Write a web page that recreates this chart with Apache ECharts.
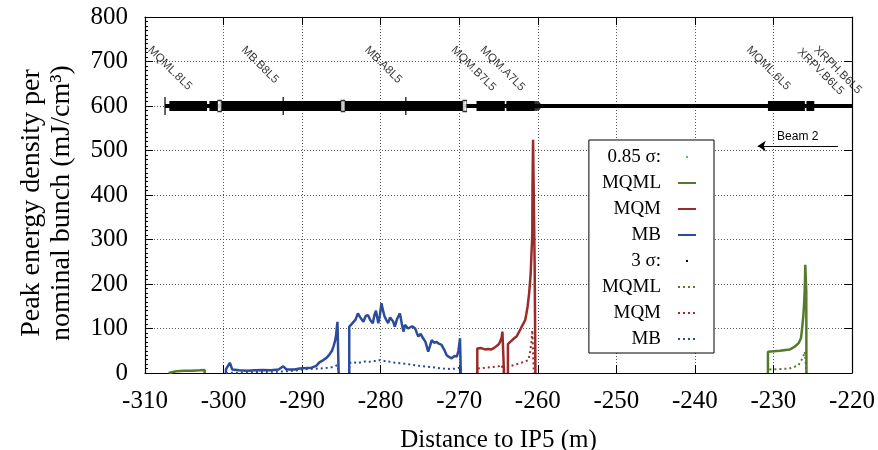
<!DOCTYPE html>
<html>
<head>
<meta charset="utf-8">
<script src="https://cdn.jsdelivr.net/npm/echarts@6/dist/echarts.min.js"></script>
<style>
html, body { margin: 0; padding: 0; background: #fff; }
#chart { width: 878px; height: 450px; }
</style>
</head>
<body>
<div id="chart"></div>
<script>
// element names along the beam line (top of the plot)
const elementNames = ['MQML.8L5', 'MB.B8L5', 'MB.A8L5', 'MQM.B7L5', 'MQM.A7L5', 'MQML.6L5', 'XRPV.B6L5', 'XRPH.B6L5'];
const elementLabelX = [-309.4, -297.5, -281.8, -270.8, -267.1, -233.2, -226.7, -224.6];
const elementLabelY = [730, 730, 730, 730, 730, 730, 725, 730];

// beam line at 600 and magnet blocks on it
const beamY = 600;
const beamStart = -307.45;
const beamEnd = -220;
const magnetStart = [-306.9, -301.8, -300.5, -284.8, -267.8, -264.0, -230.7, -225.8];
const magnetEnd = [-302.1, -300.7, -284.8, -269.3, -264.2, -260.4, -226.0, -224.8];
const interconnectX = [-300.5, -284.8, -269.3];
const beamTickX = [-307.45, -292.4, -276.8];
const beamEndX = [-260.2];

// Beam 2 arrow
const beamArrowFrom = [-221.8, 510];
const beamArrowTo = [-232.0, 510];

// 0.85 sigma, solid
const mqmlSolid = [
  [[-307.0, 0], [-307.0, 3], [-306, 4], [-305, 5], [-304, 5], [-303, 6], [-302.4, 7], [-302.4, 0]],
  [[-230.7, 0], [-230.7, 48], [-229.2, 50], [-227.9, 53], [-227.3, 59], [-226.8, 67], [-226.5, 78], [-226.37, 97],
   [-226.2, 127], [-226.07, 164], [-225.99, 202], [-225.95, 243], [-225.82, 183], [-225.8, 0]]
];
const mqmSolid = [
  [[-267.7, 0], [-267.7, 55], [-267.5, 58], [-267.2, 56], [-266.7, 53], [-266.3, 54], [-265.9, 53], [-265.5, 57],
   [-265.25, 61], [-265.0, 64], [-264.8, 70], [-264.6, 80], [-264.5, 93], [-264.3, 93], [-264.3, 0]],
  [[-263.8, 0], [-263.8, 65], [-263.5, 70], [-263.3, 74], [-263.0, 78], [-262.7, 82], [-262.4, 92], [-262.05, 104],
   [-261.8, 112], [-261.6, 119], [-261.45, 133], [-261.3, 149], [-261.1, 179], [-260.9, 224], [-260.8, 269],
   [-260.7, 310], [-260.67, 419], [-260.6, 524], [-260.45, 527], [-260.4, 247], [-260.3, 0]]
];
const mbSolid = [
  [[-299.7, 0], [-299.7, 8], [-299.2, 23], [-298.9, 8], [-298, 6], [-297, 5], [-296, 6], [-295, 7], [-294, 6],
   [-293, 8], [-292.4, 15], [-292, 8], [-291, 8], [-290.3, 10], [-289.5, 11], [-288.8, 12], [-288.2, 16],
   [-287.8, 24], [-287.3, 29], [-286.9, 34], [-286.5, 42], [-286.2, 50], [-286.0, 60], [-285.8, 72], [-285.7, 82],
   [-285.5, 115], [-285.35, 115], [-285.35, 0]],
  [[-284.0, 0], [-284.0, 104], [-283.7, 110], [-283.5, 108], [-283.2, 120], [-282.9, 134], [-282.6, 125],
   [-282.2, 115], [-281.9, 128], [-281.6, 130], [-281.3, 118], [-281.0, 112], [-280.8, 130], [-280.6, 140],
   [-280.3, 112], [-280.1, 130], [-279.9, 157], [-279.7, 140], [-279.5, 127], [-279.3, 120], [-279.05, 112],
   [-278.8, 125], [-278.6, 127], [-278.4, 115], [-278.2, 104], [-277.9, 122], [-277.55, 134], [-277.3, 110],
   [-277.1, 93], [-276.9, 108], [-276.7, 112], [-276.5, 100], [-276.3, 97], [-276.0, 105], [-275.6, 100],
   [-275.4, 90], [-275.2, 82], [-274.9, 88], [-274.6, 78], [-274.3, 70], [-273.95, 48], [-273.7, 62],
   [-273.5, 74], [-273.2, 68], [-272.9, 70], [-272.6, 66], [-272.25, 63], [-271.9, 52], [-271.6, 40],
   [-271.3, 36], [-270.97, 33], [-270.6, 38], [-270.3, 37], [-270.1, 50], [-269.9, 78], [-269.8, 80], [-269.8, 0]]
];

// 3 sigma, dotted
const mqmlDotted = [
  [[-230.7, 0], [-230.7, 8], [-229, 9], [-228, 10], [-227.3, 14], [-226.8, 18], [-226.4, 30], [-226.2, 37],
   [-226.0, 48], [-225.85, 50], [-225.8, 0]]
];
const mqmDotted = [
  [[-267.7, 0], [-267.7, 10], [-267, 11], [-266, 13], [-265, 15], [-264.6, 18], [-264.4, 20], [-264.3, 0]],
  [[-263.8, 0], [-263.8, 14], [-263, 18], [-262.3, 22], [-261.6, 26], [-261.2, 29], [-261.0, 44], [-260.8, 70],
   [-260.7, 96], [-260.6, 100], [-260.5, 0]]
];
const mbDotted = [
  [[-299.7, 0], [-299.5, 2], [-296, 2], [-293, 3], [-291, 5], [-290, 8], [-289, 9], [-288, 10], [-287, 11],
   [-286.5, 12], [-285.8, 15], [-285.5, 18], [-285.35, 18], [-285.35, 0]],
  [[-284.0, 0], [-284.0, 22], [-283.5, 25], [-283, 22], [-282.5, 24], [-282, 26], [-281.5, 25], [-281, 27],
   [-280.5, 27], [-280.1, 29], [-279.5, 27], [-279, 26], [-278.5, 24], [-278, 23], [-277.5, 22], [-277, 21],
   [-276.5, 20], [-276, 18], [-275.5, 17], [-275, 16], [-274.5, 15], [-274, 14], [-273, 12], [-272, 10],
   [-271, 9], [-270.3, 10], [-270, 12], [-269.8, 13], [-269.8, 0]]
];

const SERIF = 'Liberation Serif';
const SANS = 'Liberation Sans';
const GREEN = '#557a2a';
const RED = '#9b2a2a';
const BLUE = '#2b4b9b';

// join segments with a break point so the line is not connected
const joinSegs = (segs) => {
  const out = [];
  segs.forEach((s, i) => {
    if (i) out.push(['-', '-']);
    s.forEach((p) => out.push(p));
  });
  return out;
};

const magnetData = joinSegs(magnetStart.map((s, i) => [[s, beamY], [magnetEnd[i], beamY]]));

const dataLine = (name, segs, color, dotted) => ({
  name: name,
  type: 'line',
  data: joinSegs(segs),
  symbol: 'none',
  silent: true,
  z: dotted ? 3 : 4,
  itemStyle: { color: color },
  lineStyle: dotted ? { color: color, width: 2, type: [2, 3] } : { color: color, width: 2.5 }
});

const dotIcon = 'path://M0,0M18,14M8,6h2v2h-2z';

const chart = echarts.init(document.getElementById('chart'));

const option = {
  animation: false,
  backgroundColor: '#fff',
  grid: { left: 145, right: 26, top: 17, bottom: 77, outerBoundsMode: 'none' },
  legend: {
    orient: 'vertical',
    right: 164,
    top: 140,
    align: 'right',
    itemWidth: 18,
    itemHeight: 14,
    itemGap: 6,
    selectedMode: false,
    backgroundColor: '#fff',
    borderColor: '#000',
    borderWidth: 1,
    borderRadius: 0,
    padding: [7, 17, 4, 13],
    // hide the point symbol on the line samples
    itemStyle: { opacity: 0 },
    textStyle: { fontFamily: SERIF, fontSize: 19, color: '#000', lineHeight: 20, padding: [0, 12, 0, 0] },
    formatter: (n) => n.trim(),
    data: [
      { name: '0.85 σ:', icon: dotIcon, itemStyle: { color: '#33dd33', opacity: 1 } },
      'MQML', 'MQM', 'MB',
      { name: '3 σ:', icon: dotIcon, itemStyle: { color: '#000', opacity: 1 } },
      'MQML ', 'MQM ', 'MB '
    ]
  },
  xAxis: [
    {
      type: 'value',
      min: -310,
      max: -220,
      interval: 10,
      position: 'bottom',
      axisLine: { show: true, onZero: false, lineStyle: { color: '#000', width: 1.2 } },
      axisTick: { show: true, inside: true, length: 8, lineStyle: { color: '#000' } },
      axisLabel: { fontFamily: SERIF, fontSize: 25, color: '#000', margin: 16 },
      splitLine: { show: true, lineStyle: { color: '#555', width: 1, type: [1, 2] } },
      name: 'Distance to IP5 (m)',
      nameLocation: 'middle',
      nameGap: 55,
      nameTextStyle: { fontFamily: SERIF, fontSize: 25, color: '#000' }
    },
    {
      type: 'value',
      min: -310,
      max: -220,
      interval: 10,
      position: 'top',
      axisLine: { show: true, onZero: false, lineStyle: { color: '#000', width: 1.2 } },
      axisTick: { show: true, inside: true, length: 8, lineStyle: { color: '#000' } },
      axisLabel: { show: false },
      splitLine: { show: false }
    }
  ],
  yAxis: [
    {
      type: 'value',
      min: 0,
      max: 800,
      interval: 100,
      position: 'left',
      axisLine: { show: true, onZero: false, lineStyle: { color: '#000', width: 1.2 } },
      axisTick: { show: true, inside: true, length: 8, lineStyle: { color: '#000' } },
      minorTick: { show: true, splitNumber: 10, length: 3, lineStyle: { color: '#000' } },
      axisLabel: { fontFamily: SERIF, fontSize: 25, color: '#000', margin: 17 },
      splitLine: { show: true, lineStyle: { color: '#555', width: 1, type: [1, 2] } },
      name: 'Peak energy density per\nnominal bunch (mJ/cm³)',
      nameLocation: 'middle',
      nameGap: 68,
      nameTextStyle: { fontFamily: SERIF, fontSize: 28, lineHeight: 30, color: '#000', padding: [0, 16, 0, 0] }
    },
    {
      type: 'value',
      min: 0,
      max: 800,
      interval: 100,
      position: 'right',
      axisLine: { show: true, onZero: false, lineStyle: { color: '#000', width: 1.2 } },
      axisTick: { show: true, inside: true, length: 8, lineStyle: { color: '#000' } },
      axisLabel: { show: false },
      splitLine: { show: false }
    }
  ],
  series: [
    // beam line
    {
      type: 'line',
      data: [[beamStart, beamY], [beamEnd, beamY]],
      symbol: 'none',
      silent: true,
      z: 5,
      lineStyle: { color: '#000', width: 4 },
      markLine: {
        silent: true,
        symbol: ['none', 'arrow'],
        symbolSize: 8,
        lineStyle: { color: '#000', width: 1, type: 'solid' },
        label: { show: true, position: 'middle', distance: 3, formatter: 'Beam 2', fontFamily: SANS, fontSize: 12, color: '#000' },
        data: [[{ coord: beamArrowFrom }, { coord: beamArrowTo }]]
      }
    },
    {
      type: 'line',
      data: magnetData,
      symbol: 'none',
      silent: true,
      z: 5,
      lineStyle: { color: '#000', width: 10, cap: 'butt' }
    },
    {
      type: 'scatter',
      data: interconnectX.map((x) => [x, beamY]),
      symbol: 'rect',
      symbolSize: [4, 11],
      silent: true,
      z: 6,
      itemStyle: { color: '#fff', borderColor: '#000', borderWidth: 1 }
    },
    {
      type: 'scatter',
      data: beamEndX.map((x) => [x, beamY]),
      symbol: 'circle',
      symbolSize: 10,
      silent: true,
      z: 6,
      itemStyle: { color: '#000' }
    },
    {
      type: 'scatter',
      data: beamTickX.map((x) => [x, beamY]),
      symbol: 'rect',
      symbolSize: [1.5, 18],
      silent: true,
      z: 6,
      itemStyle: { color: '#000' }
    },
    // element labels
    {
      type: 'scatter',
      data: elementNames.map((n, i) => ({ name: n, value: [elementLabelX[i], elementLabelY[i]] })),
      symbolSize: 0,
      silent: true,
      z: 6,
      label: {
        show: true,
        formatter: '{b}',
        position: 'inside',
        align: 'left',
        verticalAlign: 'middle',
        rotate: -45,
        fontFamily: SANS,
        fontSize: 11.5,
        color: '#000'
      }
    },
    // legend headers
    { name: '0.85 σ:', type: 'line', data: [], itemStyle: { color: '#33dd33' } },
    dataLine('MQML', mqmlSolid, GREEN, false),
    dataLine('MQM', mqmSolid, RED, false),
    dataLine('MB', mbSolid, BLUE, false),
    { name: '3 σ:', type: 'line', data: [], itemStyle: { color: '#000' } },
    dataLine('MQML ', mqmlDotted, GREEN, true),
    dataLine('MQM ', mqmDotted, RED, true),
    dataLine('MB ', mbDotted, BLUE, true)
  ]
};

chart.setOption(option);
</script>
</body>
</html>
